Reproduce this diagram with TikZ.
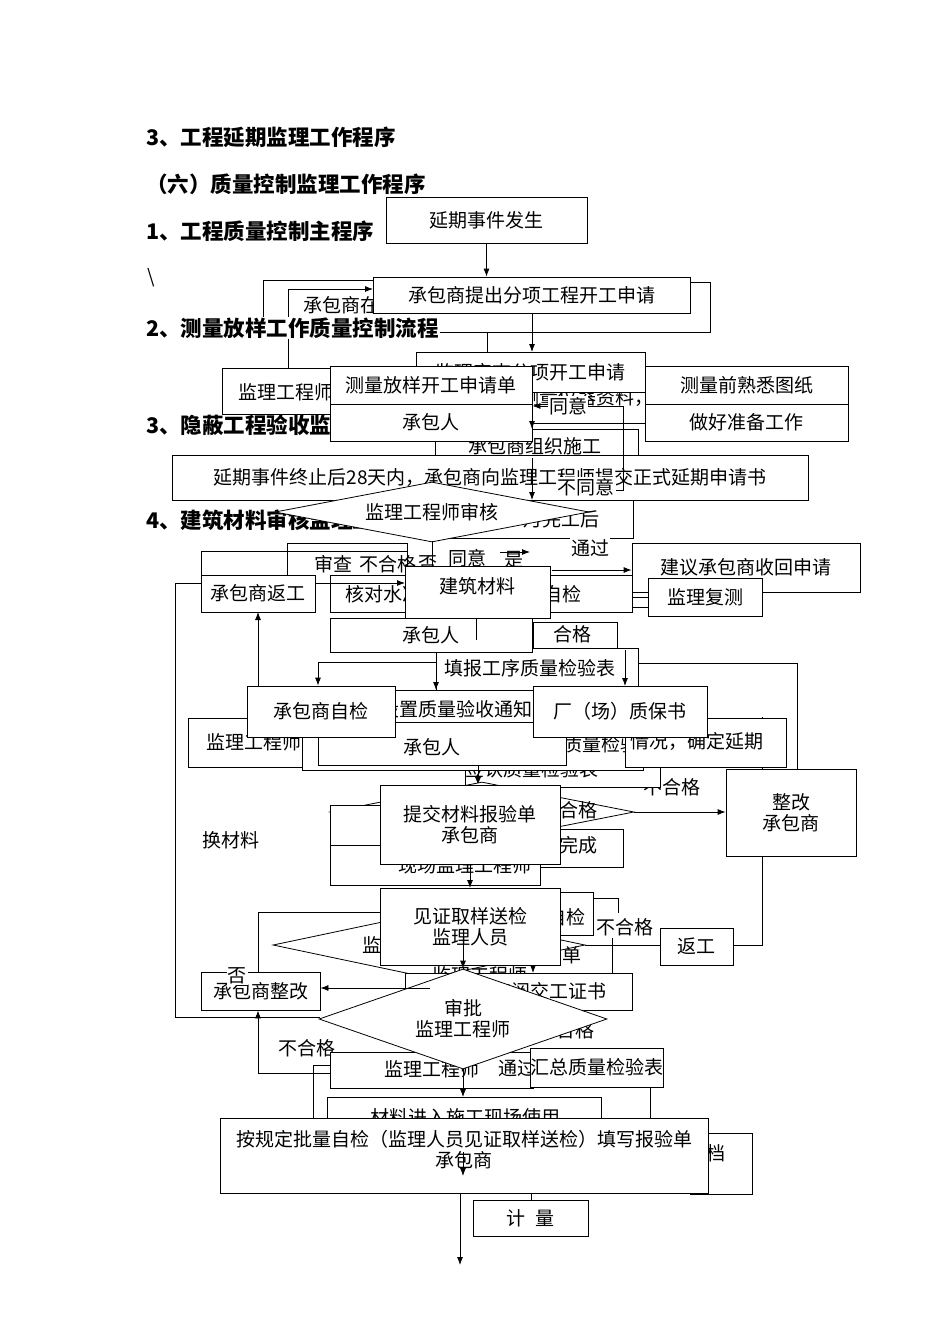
\documentclass[tikz,border=0pt]{standalone}
\usepackage{fontspec}
\newfontfamily\cn{Noto Sans CJK SC}
\usetikzlibrary{shapes.geometric,arrows.meta}
\tikzset{
 bx/.style={draw,fill=white,inner sep=0pt,line width=0.8pt,font=\cn\fontsize{19}{21}\selectfont,align=center},
 tx/.style={inner sep=0pt,font=\cn\fontsize{19}{21}\selectfont},
 lb/.style={fill=white,inner sep=1pt,font=\cn\fontsize{19}{21}\selectfont},
 hd/.style={inner sep=1pt,anchor=west,font=\cn\bfseries\fontsize{21.5}{24}\selectfont},
 ln/.style={line width=0.8pt},
 ar/.style={line width=0.8pt,-{Latex[length=8pt,width=6pt]}},
 dm/.style={draw,fill=white,diamond,inner sep=0pt,line width=0.8pt,font=\cn\fontsize{19}{21}\selectfont,align=center},
}
\newcommand{\bxx}[6]{\node[bx,minimum width={(#4-#2)*1pt},minimum height={(#5-#3)*1pt}] (#1) at ({(#2+#4)/2},{(#3+#5)/2}) {#6};}
\begin{document}
\begin{tikzpicture}[x=1pt,y=-1pt]
\fill[white] (0,0) rectangle (950,1344);
\useasboundingbox (0,0) rectangle (950,1344);
% ---------- background lines ----------
\draw[ln] (373,280)--(263,280)--(263,332)--(710,332)--(710,282)--(690,282);
\draw[ar] (420,370)--(288,370)--(288,289)--(373,289);
\node[tx,anchor=west] (cz) at (303,305) {承包商在};
\draw[ln] (487,332)--(487,366);
\draw[ln] (175,583)--(175,1017)--(320,1017);
% ---------- headings ----------
\node[hd] (h1) at (145,137) {3、工程延期监理工作程序};
\node[hd] (h2) at (145,184) {（六）质量控制监理工作程序};
\node[hd] (h3) at (145,231) {1、工程质量控制主程序};
\node[tx,anchor=west] (h4) at (147,278) {\textbackslash};
\node[hd,fill=white] (h5) at (145,328) {2、测量放样工作质量控制流程};
% ---------- top flow ----------
\bxx{jl1}{222}{368}{332}{414}{}
\node[tx,anchor=west] (jl1t) at (238,392) {监理工程师};
\node[hd] (h6) at (145,425) {3、隐蔽工程验收监理工作程序};
\node[hd] (h7) at (145,520) {4、建筑材料审核监理工作程序};
\node[tx,anchor=east] (yq) at (654,397) {承包商报送测量仪器资料，};
\bxx{D}{416}{352}{645}{392}{监理审查分项开工申请}
\bxx{F}{645}{366}{848}{404}{测量前熟悉图纸}
\bxx{G}{645}{404}{848}{441}{做好准备工作}
\bxx{zs}{435}{429}{638}{458}{}
\node[tx] (zst) at (535,446) {承包商组织施工};
\bxx{E}{330}{366}{532}{404}{测量放样开工申请单}
\bxx{E2}{330}{404}{532}{441}{承包人}
\bxx{B}{373}{277}{690}{313}{承包商提出分项工程开工申请}
\bxx{A}{386}{197}{587}{243}{延期事件发生}
\draw[ar] (A.south) -- (A.south|-B.north);
\draw[ar] (532,313)--(532,352);
\draw[ln] (G.west|-0,423)--(532,423);
\draw[ar] (532,392)--(532,429);
% ---------- delay application ----------
\bxx{sq}{172}{455}{808}{500}{延期事件终止后28天内，承包商向监理工程师提交正式延期申请书}
\bxx{wg}{440}{500}{633}{538}{}
\node[tx,anchor=east] (wgt) at (600,519) {月完工后};
\draw[ar] (585,490)--(623,490)--(623,406)--(E2.east|-0,406);
\node[lb] (ty) at (568,406) {同意};
\draw[ar] (532,458)--(532,500);
\node[lb] (bty) at (586,487) {不同意};
\node[dm,minimum width=314pt,minimum height=60pt,shape aspect=5.2] (d1) at (432,512) {监理工程师审核};
\node[lb] (tg1) at (590,548) {通过};
% ---------- building materials ----------
\draw[ln] (201,575)--(201,551)--(407,551);
\draw[ln] (287,577)--(287,543)--(407,543)--(407,566);
\draw[ln] (432,541)--(432,566);
\draw[ar] (500,552)--(530,552);
\node[tx] (sc) at (333,564) {审查};
\node[tx] (bhg0) at (388,564) {不合格};
\node[tx] (fou0) at (428,564) {否};
\node[tx] (ty2) at (467,558) {同意};
\node[tx] (shi0) at (514,560) {是};
\bxx{hd1}{330}{575}{632}{612}{}
\node[tx,anchor=west] (hdt) at (345,594) {核对水准点};
\node[tx,anchor=east] (hdt2) at (582,594) {自检};
\draw[ar] (175,583)--(405,583);
\bxx{fg}{201}{575}{315}{612}{承包商返工}
\bxx{jy}{632}{543}{860}{592}{建议承包商收回申请}
\bxx{fc}{648}{578}{762}{616}{监理复测}
\draw[ar] (552,570)--(jy.west|-0,570);
\draw[ln] (632,597)--(648,597) (632,607)--(648,607);
\bxx{hg}{533}{622}{617}{656}{}
\node[tx] (hgt) at (572,634) {合格};
\bxx{tb}{436}{648}{638}{700}{}
\node[tx] (tbt) at (530,668) {填报工序质量检验表};
\bxx{jc}{405}{566}{550}{618}{}
\node[tx] (jct) at (477,586) {建筑材料};
\bxx{cb1}{330}{618}{532}{652}{承包人}
\draw[ln] (476,618)--(476,640);
% ---------- branching ----------
\draw[ln] (318,662)--(436,662);
\draw[ln] (638,663)--(797,663)--(797,769);
\draw[ln] (762,717)--(762,945)--(733,945);
\draw[ar] (258,718)--(258,612);
\node[lb] (bhg1) at (672,787) {不合格};
\bxx{Q}{465}{752}{660}{787}{}
\node[tx] (Qt) at (532,769) {签认质量检验表};
\bxx{jl2}{188}{718}{330}{767}{}
\node[tx,anchor=west] (jl2t) at (206,742) {监理工程师};
\bxx{P}{302}{728}{643}{770}{}
\node[tx,anchor=east] (Pt) at (640,744) {质量检验};
\bxx{R}{625}{718}{786}{767}{}
\node[tx,anchor=east] (Rt) at (764,741) {情况，确定延期};
\bxx{zl}{375}{690}{552}{735}{}
\node[tx] (zlt) at (466,709) {设置质量验收通知单};
\bxx{cb2}{318}{722}{566}{765}{}
\node[tx] (cb2t) at (432,747) {承包人};
\bxx{zj}{247}{686}{395}{737}{承包商自检}
\bxx{zb}{533}{686}{707}{737}{厂（场）质保书}
\draw[ar] (318,662)--(zj.north-|318,0);
\draw[ar] (436,652)--(436,690);
\draw[ar] (625,650)--(625,686);
\draw[ar] (478,765)--(478,785);
% ---------- submission ----------
\node[dm,minimum width=304pt,minimum height=60pt,shape aspect=5] (d3) at (482,812) {};
\node[tx] (hg2) at (578,810) {合格};
\bxx{xc1}{330}{805}{400}{845}{}
\bxx{xc2}{330}{845}{540}{885}{}
\node[tx] (xct) at (465,865) {现场监理工程师};
\bxx{wc}{540}{829}{623}{867}{}
\node[tx,anchor=east] (wct) at (598,845) {完成};
\bxx{zg}{726}{769}{856}{856}{整改\\承包商}
\draw[ar] (d3.east)--(zg.west|-d3.east);
\bxx{tj}{380}{785}{560}{864}{提交材料报验单\\承包商}
\draw[ar] (470,864)--(470,888);
\node[tx] (hcl) at (231,840) {换材料};
% ---------- witness sampling ----------
\draw[ln] (380,912)--(258,912)--(258,972);
\node[dm,minimum width=312pt,minimum height=66pt,shape aspect=4.7] (d2) at (429,945) {监理工程师审核};
\node[tx] (dan) at (572,955) {单};
\node[tx] (jl3t) at (480,975) {监理工程师};
\bxx{zj2}{500}{892}{593}{935}{}
\node[tx,anchor=east] (zj2t) at (586,917) {自检};
\draw[ln] (593,898)--(618,898)--(618,913);
\bxx{jz}{380}{888}{560}{965}{见证取样送检\\监理人员}
\draw[ln] (d2.east)--(660,945);
\draw[ln] (612,938)--(612,973);
\node[lb] (bhg2) at (625,927) {不合格};
\bxx{fg2}{660}{928}{733}{965}{返工}
\bxx{jg}{405}{973}{632}{1010}{}
\node[tx,anchor=east] (jgt) at (607,991) {审阅交工证书};
\bxx{zg2}{201}{972}{320}{1010}{承包商整改}
\node[lb] (fou) at (237,976) {否};
% ---------- approval ----------
\draw[ln] (313,1118)--(313,1065)--(330,1065);
\draw[ln] (650,1087)--(650,1118);
\draw[ln] (258,1073)--(330,1073);
\draw[ar] (258,1073)--(zg2.south-|258,0);
\node[tx] (bhg3) at (307,1048) {不合格};
\bxx{jl3}{330}{1052}{533}{1088}{}
\node[tx] (jl3b) at (432,1069) {监理工程师};
\node[lb] (tg2) at (517,1068) {通过};
\bxx{hz}{531}{1048}{663}{1087}{汇总质量检验表}
\node[tx] (hg3) at (575,1030) {合格};
\node[dm,minimum width=288pt,minimum height=100pt,shape aspect=2.9] (d4) at (463,1019) {审批\\监理工程师};
\draw[ar] (463,935)--(d4.north);
\draw[ar] (430,988)--(zg2.east|-0,988);
\draw[ar] (533,965)--(533,973);
\bxx{cl}{327}{1097}{601}{1130}{}
\node[tx] (clt) at (465,1117) {材料进入施工现场使用};
\draw[ar] (d4.south)--(463,1097);
\bxx{dg}{690}{1133}{752}{1194}{}
\node[tx] (dgt) at (716,1153) {档};
\bxx{pl}{220}{1118}{708}{1193}{}
\node[tx,align=center] (plt) at (464,1150) {按规定批量自检（监理人员见证取样送检）填写报验单\\承包商};
\draw[ar] (463,1152)--(463,1176);
\bxx{jl}{473}{1200}{588}{1236}{计\enspace 量}
\draw[ln] (531,1193)--(531,1200);
\draw[ar] (460,1193)--(460,1265);
\end{tikzpicture}
\end{document}
